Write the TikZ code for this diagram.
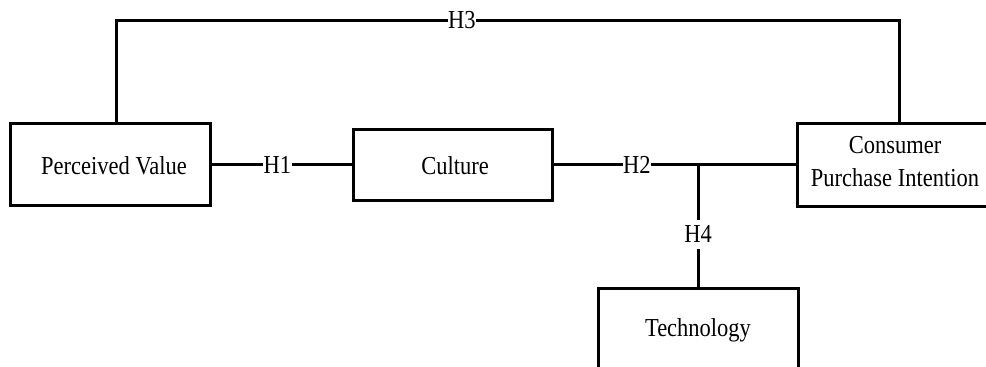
\documentclass[tikz,border=0pt]{standalone}
\usepackage{fontspec}
\usepackage{graphicx}
\setmainfont{Liberation Serif}
\newcommand{\vst}[1]{\scalebox{1}[1.15]{#1}}
\begin{document}
\begin{tikzpicture}[x=1pt,y=-1pt,
  box/.style={draw,line width=3pt,minimum width=200pt,inner sep=0pt},
  txt/.style={font=\fontsize{22.5}{26}\selectfont,inner sep=0pt},
  conn/.style={line width=3pt},
  hlab/.style={fill=white,inner sep=0.5pt,font=\fontsize{22.5}{26}\selectfont}]
\useasboundingbox (0,0) rectangle (986,367);
\clip (0,0) rectangle (986,367);
\node[box,minimum height=82pt] (pv) at (110,164.5) {};
\node[txt] (pvt) at (114,166) {\vst{Perceived Value}};
\node[box,minimum width=199pt,minimum height=71pt] (cu) at (452.5,164.5) {};
\node[txt] (cut) at (455,166) {\vst{Culture}};
\node[box,minimum height=83pt] (cp) at (897,164.5) {};
\node[txt] (cpt1) at (895,145) {\vst{Consumer}};
\node[txt] (cpt2) at (895,178) {\vst{Purchase Intention}};
\node[box,minimum height=100pt] (te) at (698,338) {};
\node[txt] (tet) at (698,330) {\vst{Technology}};
\coordinate (j) at (698,164.5);
\coordinate (pvtop) at (116,123.5);
\coordinate (cptop) at (899,123);
\draw[conn] (pv.east) -- node[hlab,pos=0.47] (h1) {\vst{H1}} (cu.west);
\draw[conn] (cu.east) -- node[hlab,pos=0.345] (h2) {\vst{H2}} (cp.west);
\draw[conn] (j) -- node[hlab,pos=0.57,inner ysep=6pt] (h4) {\vst{H4}} (te.north);
\draw[conn] (pvtop) -- (116,20) -- node[hlab,pos=0.4417] (h3) {\vst{H3}} (899,20) -- (cptop);
\end{tikzpicture}
\end{document}
